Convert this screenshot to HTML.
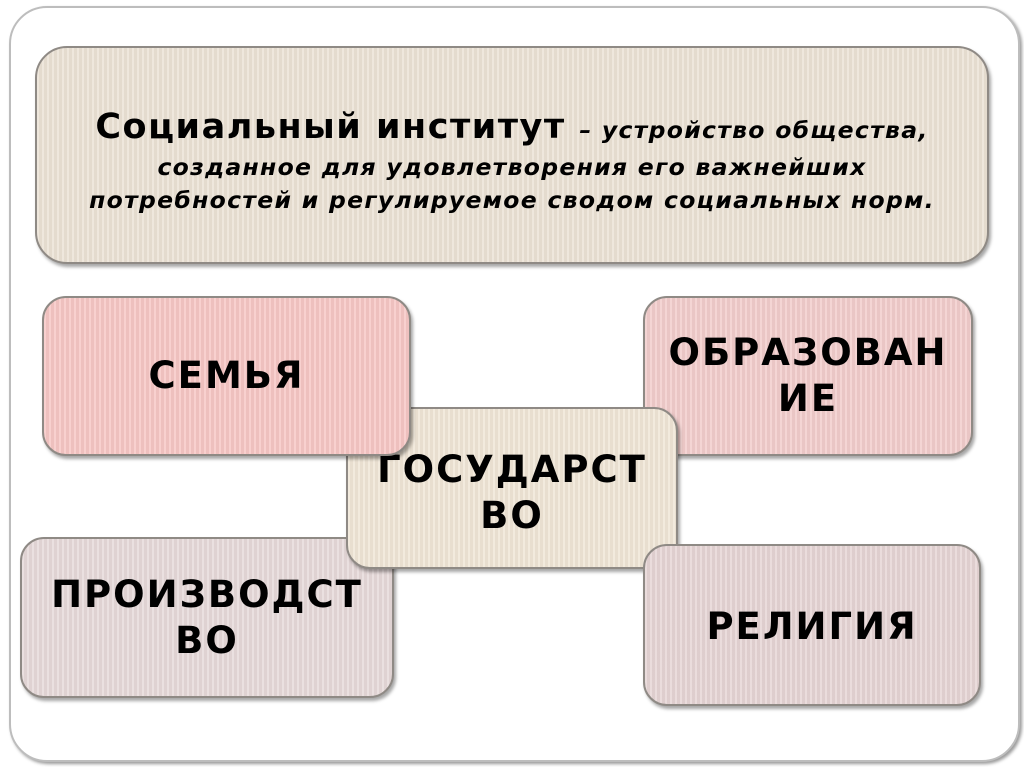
<!DOCTYPE html>
<html><head><meta charset="utf-8"><style>
html,body{margin:0;padding:0;background:#fff;width:1024px;height:767px;overflow:hidden;position:relative;font-family:"DejaVu Sans","Liberation Sans",sans-serif}
.frame{position:absolute;left:9px;top:6px;width:1007px;height:752px;border:2px solid #bdbdbd;border-radius:38px;box-shadow:2px 2px 3px #999;background:#fff}
.b{position:absolute;border:2px solid #8f8a85;border-radius:24px;box-shadow:2px 3px 3px rgba(0,0,0,.35);display:flex;align-items:center;justify-content:center;text-align:center;font-weight:bold;font-size:37px;letter-spacing:2px;line-height:46px;color:#000;box-sizing:border-box;white-space:nowrap;
background-image:repeating-linear-gradient(90deg,rgba(255,255,255,.18) 0 2px,rgba(0,0,0,.03) 2px 5px)}
</style></head><body>
<div class="frame"></div>
<div class="b" style="left:35px;top:46px;width:954px;height:218px;background-color:#ebe2d5;border-radius:32px;display:block;padding-top:58px">
<div style="font-size:35px;letter-spacing:1.5px;line-height:42px">Социальный институт <span style="font-style:italic;font-size:23.5px;letter-spacing:1.3px">– устройство общества,</span></div>
<div style="font-style:italic;font-size:23.5px;letter-spacing:1.3px;line-height:33px">созданное для удовлетворения его важнейших<br>потребностей и регулируемое сводом социальных норм.</div>
</div>
<div class="b" style="left:643px;top:296px;width:330px;height:160px;background-color:#f1cccb;align-items:flex-start;padding-top:32px">ОБРАЗОВАН<br>ИЕ</div>
<div class="b" style="left:20px;top:537px;width:374px;height:161px;background-color:#e6d9d9">ПРОИЗВОДСТ<br>ВО</div>
<div class="b" style="left:346px;top:407px;width:332px;height:162px;background-color:#efe5d6;align-items:flex-start;padding-top:38px">ГОСУДАРСТ<br>ВО</div>
<div class="b" style="left:42px;top:296px;width:369px;height:160px;background-color:#f6c6c4;padding-bottom:0px">СЕМЬЯ</div>
<div class="b" style="left:643px;top:544px;width:338px;height:162px;background-color:#e5d4d4;padding-top:4px">РЕЛИГИЯ</div>
</body></html>
